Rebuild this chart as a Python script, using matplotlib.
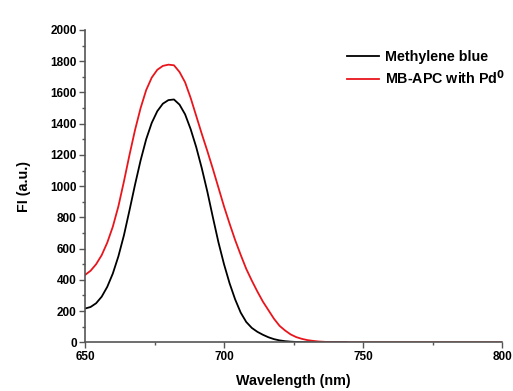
import numpy as np
from matplotlib import pyplot as plt
from matplotlib.ticker import MultipleLocator

# emission spectra, 2 nm steps
wl_black = list(range(650, 746, 2))
fi_black = [216, 226, 250, 292, 355, 440, 550, 685, 845, 1010,
            1165, 1300, 1405, 1480, 1528, 1551, 1555, 1522, 1460, 1365,
            1250, 1115, 965, 800, 640, 500, 378, 275, 190, 130,
            92, 67, 48, 32, 20, 12, 7, 4, 2, 1,
            0, 0, 0, 0, 0, 0, 0, 0]

wl_red = list(range(650, 742, 2)) + [800]
fi_red = [431, 458, 500, 558, 638, 740, 870, 1030, 1200, 1360,
          1500, 1615, 1695, 1745, 1770, 1778, 1774, 1731, 1665, 1565,
          1450, 1335, 1225, 1110, 990, 870, 760, 655, 560, 470,
          395, 325, 260, 205, 150, 105, 75, 50, 33, 22,
          14, 9, 5, 3, 1, 0, 0]

plt.rcParams['font.family'] = ['Liberation Sans', 'DejaVu Sans']
plt.rcParams['font.weight'] = 'bold'

fig = plt.figure(figsize=(5.13, 3.91), dpi=100)
ax = fig.add_axes([0.1657, 0.1246, 0.8129, 0.7987])

ax.plot(wl_black, fi_black, color='black', lw=1.3, label='Methylene blue')
ax.plot(wl_red, fi_red, color='#e8161c', lw=1.3, label='MB-APC with Pd$^{\\mathbf{0}}$')

ax.set_xlim(650, 800)
ax.set_ylim(0, 2000)
ax.xaxis.set_major_locator(MultipleLocator(50))
ax.xaxis.set_minor_locator(MultipleLocator(25))
ax.yaxis.set_major_locator(MultipleLocator(200))
ax.yaxis.set_minor_locator(MultipleLocator(100))

for s in ['top', 'right']:
    ax.spines[s].set_visible(False)
for s in ['left', 'bottom']:
    ax.spines[s].set_color('#555555')
    ax.spines[s].set_linewidth(1.2)
ax.tick_params(which='major', direction='out', length=4, width=1, color='#555555',
               labelsize=8.5, pad=2)
ax.tick_params(which='minor', direction='out', length=2.5, width=1, color='#555555')
for lab in ax.get_xticklabels() + ax.get_yticklabels():
    lab.set_fontweight('bold')

ax.set_xlabel('Wavelength (nm)', fontsize=10.3, fontweight='bold', labelpad=8)
ax.set_ylabel('FI (a.u.)', fontsize=10.3, fontweight='bold', labelpad=14)

leg = ax.legend(loc='upper left', bbox_to_anchor=(0.615, 0.955), frameon=False,
                fontsize=10.3, handlelength=2.2, handletextpad=0.45,
                labelspacing=0.3, borderaxespad=0)
for t in leg.get_texts():
    t.set_fontweight('bold')

fig.savefig('out.png', dpi=100)
